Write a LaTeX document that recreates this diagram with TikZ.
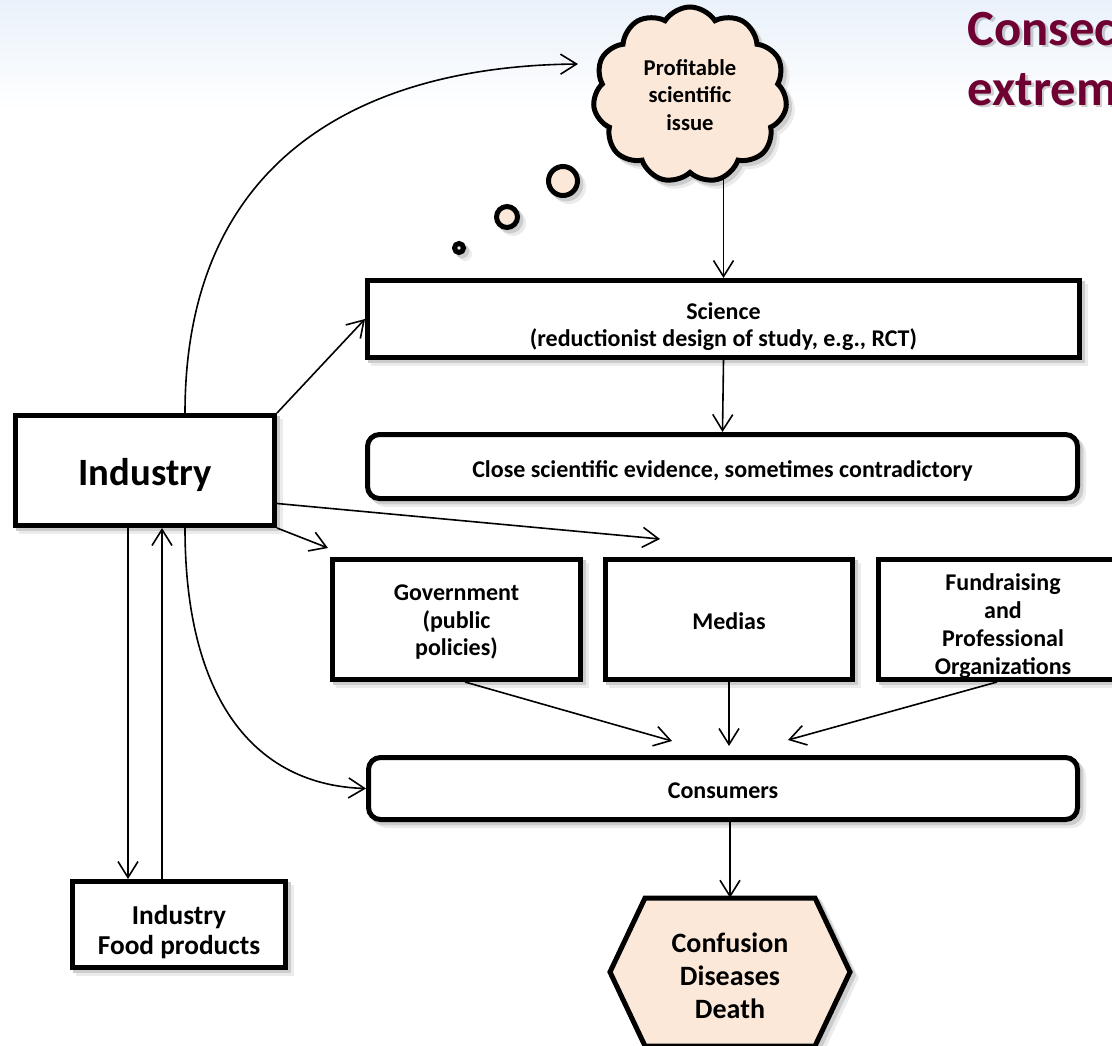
\documentclass[tikz,border=0pt]{standalone}
\usepackage{fontspec}
\setmainfont{Carlito}
\usetikzlibrary{arrows.meta,shapes.symbols,shadows,calc}
\definecolor{peach}{RGB}{252,232,216}
\definecolor{maroon}{RGB}{110,0,50}
\definecolor{bgblue}{RGB}{233,241,250}
\tikzset{
  wh/.style 2 args={minimum width=#1*0.75pt, minimum height=#2*0.75pt},
  shad/.style={
    drop shadow={shadow xshift=4.5pt,shadow yshift=-4.5pt,fill=black!8,draw=black!8,line width=3.75pt,opacity=1},
    drop shadow={shadow xshift=2.5pt,shadow yshift=-2.5pt,fill=black!20,draw=black!20,line width=3.75pt,opacity=1}},
  box/.style={draw=black, line width=3.75pt, fill=white, shad, inner sep=0pt, align=center},
  sm/.style={font=\fontsize{18}{20.5}\selectfont\bfseries, align=center},
  arr/.style={line width=1.2pt, -{Straight Barb[length=12pt,width=15pt]}},
  bubble/.style={circle, draw=black, fill=peach, inner sep=0pt, line width=3.75pt, shad},
  ttl/.style={anchor=base west, font=\fontsize{38}{42}\selectfont\bfseries}
}
\begin{document}
\begin{tikzpicture}[x=0.75pt,y=-0.75pt]
\clip (0,0) rectangle (1112,1045);
\fill[white] (0,0) rectangle (1112,1045);
\shade[top color=bgblue, bottom color=white] (0,0) rectangle (1112,110);

% title
\node[ttl, text=black, opacity=0.18] at (965.5,48) {Consec};
\node[ttl, text=black, opacity=0.18] at (965.5,108) {extrem};
\node[ttl, text=maroon] (t1) at (963,46) {Consec};
\node[ttl, text=maroon] (t2) at (963,106) {extrem};

% cloud and bubbles
\node[cloud, cloud puffs=11, cloud puff arc=115, aspect=1.1, draw=black, line width=3.75pt,
      fill=peach, shad, wh={194}{176}, align=center,
      font=\fontsize{17}{20.5}\selectfont\bfseries] (cloud) at (690,95) {Profitable\\scientific\\issue};
\node[bubble, minimum size=9*0.75pt] (b1) at (459,248) {};
\node[bubble, minimum size=21*0.75pt] (b2) at (507,217) {};
\node[bubble, minimum size=29*0.75pt] (b3) at (563,181) {};

% boxes
\node[box, wh={259}{110},
  label={[font=\fontsize{29}{33}\selectfont\bfseries, yshift=-3pt]center:Industry}] (ind) at (145,470.5) {};
\node[box, wh={213}{86},
  label={[align=center, font=\fontsize{20.5}{22.5}\selectfont\bfseries, yshift=-5.5pt]center:Industry\\Food products}] (food) at (179,924.5) {};
\node[box, wh={712}{77},
  label={[align=center, font=\fontsize{18}{20.3}\selectfont\bfseries, yshift=-5.5pt]center:Science\\(reductionist design of study, e.g., RCT)}] (sci) at (723.5,319) {};
\node[box, rounded corners=9pt, wh={710}{64},
  label={[sm, yshift=-3.5pt]center:Close scientific evidence, sometimes contradictory}] (close) at (722.5,466.5) {};
\node[box, wh={248}{120},
  label={[sm, yshift=-2pt]center:Government\\(public\\policies)}] (gov) at (456.5,619.5) {};
\node[box, wh={247}{120},
  label={[sm, yshift=-1pt]center:Medias}] (med) at (729,619.5) {};
\node[box, wh={249}{120},
  label={[sm, font=\fontsize{18}{21}\selectfont\bfseries, yshift=-5pt]center:Fundraising\\and\\Professional\\Organizations}] (fund) at (1003,619.5) {};
\node[box, rounded corners=9pt, wh={709}{62},
  label={[sm, yshift=-1.5pt]center:Consumers}] (cons) at (723,788.5) {};

% hexagon
\path[draw=black, line width=3.75pt, fill=peach, line join=miter, shad]
  (645,898) -- (815,898) -- (850,972) -- (815,1046) -- (645,1046) -- (610,972) -- cycle;
\node[wh={240}{148},
  label={[align=center, font=\fontsize{21}{24.7}\selectfont\bfseries, yshift=-2.5pt]center:Confusion\\Diseases\\Death}] (hex) at (730,972) {};

% connectors
\coordinate (ctip) at (578,64);
\coordinate (medtip) at (660,539);
\coordinate (d1) at ($(ind.south)+(-17,0)$);
\coordinate (u1) at ($(ind.south)+(17,0)$);

\draw[arr] ($(ind.north)+(40,0)$) .. controls (185,160) and (360,66) .. (ctip);
\draw[arr] (ind.north east) -- (sci.west);
\draw[arr] (cloud.south -| sci.north) -- (sci.north);
\draw[arr] (sci.south) -- (close.north);
\draw[arr] ($(ind.east)+(0,33)$) -- (medtip);
\draw[arr] (ind.south east) -- ($(gov.north west)+(-2,-9)$);
\draw[arr] ($(ind.south)+(40,0)$) .. controls (185,700) and (255,785) .. (cons.west);
\draw[arr] (d1) -- (d1 |- food.north);
\draw[arr] (u1 |- food.north) -- (u1);
\draw[arr] ($(gov.south)+(8.5,0)$) -- ($(cons.north)+(-51,-14)$);
\draw[arr] (med.south) -- ($(med.south |- cons.north)+(0,-9)$);
\draw[arr] ($(fund.south)+(-6,0)$) -- ($(cons.north)+(65,-15)$);
\draw[arr] (cons.south -| hex.north) -- (hex.north);
\end{tikzpicture}
\end{document}
